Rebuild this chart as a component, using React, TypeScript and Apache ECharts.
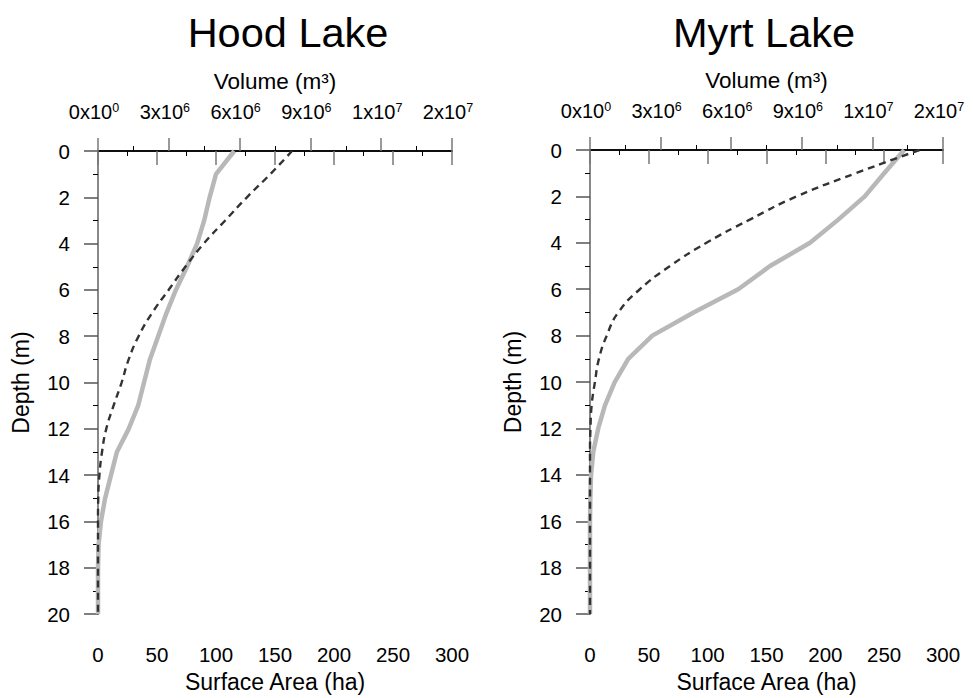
import React, { useEffect, useRef } from "react";
import * as echarts from "echarts";

// Depth (m)
const depths = [0, 1, 2, 3, 4, 5, 6, 7, 8, 9, 10, 11, 12, 13, 14, 15, 16, 17, 18, 19, 20];

// Hood Lake
const hoodArea = [115.5, 100, 94.6, 90, 84, 75.4, 66, 58, 51, 44, 39, 34, 26, 16, 11, 6, 2.5, 0.5, 0, 0, 0];
const hoodVolume = [8.22e6, 7.3e6, 6.31e6, 5.39e6, 4.48e6, 3.7e6, 2.99e6, 2.29e6, 1.72e6, 1.3e6, 1.0e6, 0.66e6, 0.35e6, 0.17e6, 0.06e6, 0.01e6, 0, 0, 0, 0, 0];

// Myrt Lake
const myrtArea = [267, 250, 233.5, 211, 187, 153, 126, 88, 53, 32.5, 21, 12.7, 7, 2.8, 0.9, 0.3, 0, 0, 0, 0, 0];
const myrtVolume = [14.0e6, 11.3e6, 8.78e6, 6.79e6, 4.95e6, 3.4e6, 2.12e6, 1.2e6, 0.71e6, 0.38e6, 0.21e6, 0.07e6, 0.02e6, 0, 0, 0, 0, 0, 0, 0, 0];

// Top axis tick labels (mantissa x 10^exponent)
const volumeTickMantissa = ["0", "3", "6", "9", "1", "2"];
const volumeTickExponent = ["0", "6", "6", "6", "7", "7"];

const titles = ["Hood Lake", "Myrt Lake"];

const FONT = "Liberation Sans, Arial, sans-serif";

function App() {
  const ref = useRef<HTMLDivElement>(null);
  useEffect(() => {
    if (!ref.current) return;
    const chart = echarts.init(ref.current, null, { renderer: "svg" });

    const grids = [
      { left: 98, top: 151, width: 354, height: 466 },
      { left: 590, top: 150, width: 353, height: 466 },
    ];

    const xAxes: any[] = [];
    const yAxes: any[] = [];
    const series: any[] = [];

    const datasets = [
      { area: hoodArea, volume: hoodVolume },
      { area: myrtArea, volume: myrtVolume },
    ];

    grids.forEach((g, gi) => {
      // bottom: surface area
      xAxes.push({
        gridIndex: gi,
        type: "value",
        position: "bottom",
        min: 0,
        max: 300,
        interval: 50,
        name: "Surface Area (ha)",
        nameLocation: "middle",
        nameGap: 54,
        nameTextStyle: { fontSize: 23, color: "#000", fontFamily: FONT },
        axisLine: { show: true, lineStyle: { color: "#000", width: 1.5 } },
        axisTick: { show: true, inside: false, length: 14, lineStyle: { color: "#777", width: 1.5 } },
        minorTick: { show: true, splitNumber: 2, length: 5, lineStyle: { color: "#000", width: 1 } },
        splitLine: { show: false },
        axisLabel: { margin: 30, fontSize: 20.5, color: "#000", fontFamily: FONT },
      });
      // top: volume
      xAxes.push({
        gridIndex: gi,
        type: "value",
        position: "top",
        min: 0,
        max: 15e6,
        interval: 3e6,
        name: "Volume (m³)",
        nameLocation: "middle",
        nameGap: 58,
        nameTextStyle: { fontSize: 22.5, color: "#000", fontFamily: FONT },
        axisLine: { show: true, lineStyle: { color: "#000", width: 1.5 } },
        axisTick: { show: true, inside: false, length: 13, lineStyle: { color: "#777", width: 1.5 } },
        minorTick: { show: true, splitNumber: 2, length: 5, lineStyle: { color: "#000", width: 1 } },
        splitLine: { show: false },
        axisLabel: {
          margin: 28,
          padding: [0, 8, 0, 0],
          formatter: (v: number) => {
            const i = Math.round(v / 3e6);
            return `{m|${volumeTickMantissa[i]}x10}{e|${volumeTickExponent[i]}}`;
          },
          rich: {
            m: { fontSize: 20, color: "#000", fontFamily: FONT, lineHeight: 22 },
            e: { fontSize: 12.5, color: "#000", fontFamily: FONT, verticalAlign: "top", lineHeight: 12 },
          },
        },
      });
      // left: depth
      yAxes.push({
        gridIndex: gi,
        type: "value",
        position: "left",
        inverse: true,
        min: 0,
        max: 20,
        interval: 2,
        name: "Depth (m)",
        nameLocation: "middle",
        nameGap: 66,
        nameRotate: 90,
        nameTextStyle: { fontSize: 23, color: "#000", fontFamily: FONT },
        axisLine: { show: true, lineStyle: { color: "#000", width: 1.5 } },
        axisTick: { show: true, inside: false, length: 14, lineStyle: { color: "#555", width: 1.5 } },
        minorTick: { show: true, splitNumber: 2, length: 5, lineStyle: { color: "#000", width: 1 } },
        splitLine: { show: false },
        axisLabel: { margin: 28, fontSize: 20.5, color: "#000", fontFamily: FONT },
      });
      // right: border line
      yAxes.push({
        gridIndex: gi,
        type: "value",
        position: "right",
        inverse: true,
        min: 0,
        max: 20,
        axisLine: { show: true, lineStyle: { color: "#888", width: 2 } },
        axisTick: { show: false },
        axisLabel: { show: false },
        splitLine: { show: false },
      });

      const d = datasets[gi];
      series.push({
        type: "line",
        xAxisIndex: gi * 2,
        yAxisIndex: gi * 2,
        data: depths.map((z, i) => [d.area[i], z]),
        showSymbol: false,
        lineStyle: { color: "#b8b8b8", width: 4.5, type: "solid" },
        z: 2,
      });
      series.push({
        type: "line",
        xAxisIndex: gi * 2 + 1,
        yAxisIndex: gi * 2,
        data: depths.map((z, i) => [d.volume[i], z]),
        showSymbol: false,
        smooth: true,
        lineStyle: { color: "#333", width: 2.4, type: [7, 5] },
        z: 3,
      });
    });

    chart.setOption({
      animation: false,
      backgroundColor: "#fff",
      title: [
        { text: titles[0], left: 283, top: 6, textAlign: "center", textStyle: { fontSize: 41.5, fontWeight: "normal", color: "#000", fontFamily: FONT } },
        { text: titles[1], left: 759, top: 6, textAlign: "center", textStyle: { fontSize: 41.5, fontWeight: "normal", color: "#000", fontFamily: FONT } },
      ],
      grid: grids,
      xAxis: xAxes,
      yAxis: yAxes,
      series,
    });
    return () => chart.dispose();
  }, []);
  return (
    <div
      ref={ref}
      style={{ position: "fixed", left: 0, top: 0, width: 973, height: 698, background: "#fff" }}
    />
  );
}

export default App;
